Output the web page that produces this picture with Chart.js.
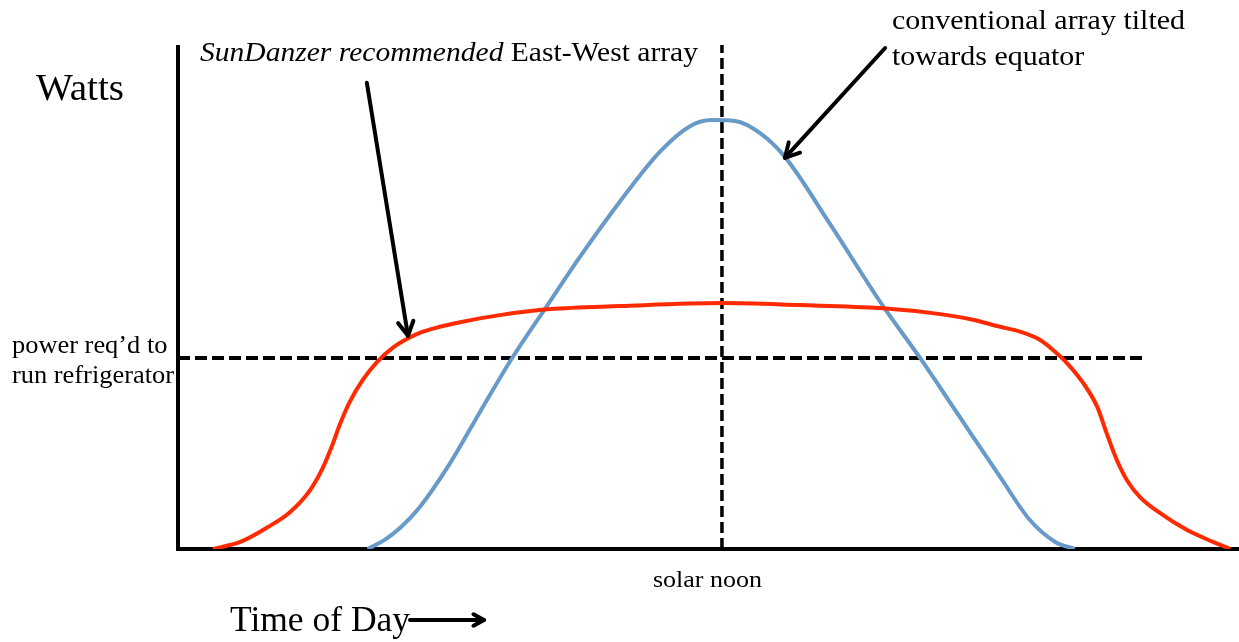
<!DOCTYPE html>
<html>
<head>
<meta charset="utf-8">
<script src="https://cdn.jsdelivr.net/npm/chart.js@4.4.1/dist/chart.umd.min.js"></script>
<style>
  html, body { margin: 0; padding: 0; background: #ffffff; }
  #wrap { width: 1239px; height: 642px; position: relative; }
</style>
</head>
<body>
<div id="wrap"><canvas id="c" width="1239" height="642"></canvas></div>
<script>
// ---- data (hours of day, watts in relative units) ----
const eastWestHours = [5.45, 5.80, 6.14, 6.44, 6.70, 6.86, 6.99, 7.08, 7.21, 7.38, 7.56, 7.77, 7.95, 8.11, 8.37, 8.63, 9.14, 9.79, 10.69, 12.00, 13.00, 14.03, 14.81, 15.20, 15.58, 15.84, 16.09, 16.26, 16.44, 16.65, 16.83, 16.95, 17.08, 17.21, 17.38, 17.64, 17.98, 18.32, 18.54];
const eastWestWatts = [0, 1.4, 4.2, 7.3, 11.7, 16.0, 20.8, 24.6, 29.2, 33.6, 37.1, 40.0, 41.7, 42.9, 44.1, 45.0, 46.4, 47.6, 48.2, 48.8, 48.4, 47.8, 46.6, 45.6, 44.1, 43.1, 41.5, 39.5, 36.9, 32.9, 28.2, 23.0, 17.7, 13.7, 10.3, 7.1, 3.8, 1.4, 0];

const tiltedHours = [7.44, 7.66, 7.86, 8.11, 8.50, 8.89, 9.30, 9.76, 10.17, 10.69, 11.20, 11.59, 11.87, 12.17, 12.49, 12.81, 13.39, 14.06, 14.55, 15.06, 15.58, 15.96, 16.29, 16.54];
const tiltedWatts = [0, 1.8, 4.2, 8.3, 17.0, 27.3, 37.9, 48.5, 57.9, 69.0, 78.8, 83.9, 85.1, 84.9, 82.5, 77.8, 64.5, 48.5, 37.9, 26.2, 14.3, 5.8, 1.4, 0];

const fridgeHours = [5.0, 17.42];
const fridgeWatts = [37.9, 37.9];

const noonHours = [12, 12];
const noonWatts = [0, 100];

const xMin = 5.0, xMax = 18.654;
const yMin = 0, yMax = 100;

const texts = {
  yTitle: 'Watts',
  xTitle: 'Time of Day',
  noon: 'solar noon',
  fridge1: 'power req\u2019d to',
  fridge2: 'run refrigerator',
  ewItalic: 'SunDanzer recommended',
  ewRegular: ' East-West array',
  tilt1: 'conventional array tilted',
  tilt2: 'towards equator'
};

function pts(xs, ys) { return xs.map((x, i) => ({ x: x, y: ys[i] })); }

const FONT = '"Liberation Serif", "DejaVu Serif", serif';

function arrow(ctx, x1, y1, x2, y2, head, width) {
  ctx.save();
  ctx.strokeStyle = '#000';
  ctx.lineWidth = width;
  ctx.lineCap = 'round';
  ctx.lineJoin = 'round';
  ctx.beginPath();
  ctx.moveTo(x1, y1);
  ctx.lineTo(x2, y2);
  ctx.stroke();
  const a = Math.atan2(y2 - y1, x2 - x1);
  ctx.beginPath();
  ctx.moveTo(x2 - head * Math.cos(a - 0.5), y2 - head * Math.sin(a - 0.5));
  ctx.lineTo(x2, y2);
  ctx.lineTo(x2 - head * Math.cos(a + 0.5), y2 - head * Math.sin(a + 0.5));
  ctx.stroke();
  ctx.restore();
}

// draw text stretched horizontally by factor sx
function stretched(ctx, str, x, y, sx) {
  ctx.save();
  ctx.translate(x, y);
  ctx.scale(sx, 1);
  ctx.fillText(str, 0, 0);
  ctx.restore();
}

const decor = {
  id: 'decor',
  beforeDatasetsDraw(chart) {
    const ctx = chart.ctx, ca = chart.chartArea;
    ctx.save();
    ctx.strokeStyle = '#000';
    ctx.lineWidth = 4;
    ctx.beginPath();
    ctx.moveTo(ca.left, ca.top);
    ctx.lineTo(ca.left, ca.bottom);
    ctx.lineTo(chart.width, ca.bottom);
    ctx.stroke();
    ctx.restore();
  },
  afterDraw(chart) {
    const ctx = chart.ctx;
    const xs = chart.scales.x, ys = chart.scales.y;
    ctx.save();
    ctx.fillStyle = '#000';
    ctx.textBaseline = 'alphabetic';
    ctx.textAlign = 'left';

    ctx.font = '38px ' + FONT;
    stretched(ctx, texts.yTitle, 36, 100, 88 / ctx.measureText(texts.yTitle).width);

    ctx.font = '36px ' + FONT;
    stretched(ctx, texts.xTitle, 230, 631, 180 / ctx.measureText(texts.xTitle).width);

    ctx.font = '24px ' + FONT;
    stretched(ctx, texts.noon, 653, 587, 109 / ctx.measureText(texts.noon).width);

    ctx.font = '25px ' + FONT;
    let s = 162 / ctx.measureText(texts.fridge2).width;
    stretched(ctx, texts.fridge1, 12, 353, s);
    stretched(ctx, texts.fridge2, 12, 383, s);

    ctx.font = 'italic 28px ' + FONT;
    const wi = ctx.measureText(texts.ewItalic).width;
    ctx.font = '28px ' + FONT;
    const wr = ctx.measureText(texts.ewRegular).width;
    s = 498 / (wi + wr);
    ctx.font = 'italic 28px ' + FONT;
    stretched(ctx, texts.ewItalic, 200, 61, s);
    ctx.font = '28px ' + FONT;
    stretched(ctx, texts.ewRegular, 200 + wi * s, 61, s);

    ctx.font = '28px ' + FONT;
    s = 293 / ctx.measureText(texts.tilt1).width;
    stretched(ctx, texts.tilt1, 892, 29, s);
    stretched(ctx, texts.tilt2, 892, 65, s);
    ctx.restore();

    // arrows pointing at the curves
    arrow(ctx, xs.getPixelForValue(7.43), ys.getPixelForValue(92.5),
               xs.getPixelForValue(7.96), ys.getPixelForValue(42.3), 16, 4);
    arrow(ctx, xs.getPixelForValue(14.10), ys.getPixelForValue(99.4),
               xs.getPixelForValue(12.81), ys.getPixelForValue(77.6), 16, 4);
    arrow(ctx, 410, 620, 484, 620, 12, 4);
  }
};

new Chart(document.getElementById('c'), {
  type: 'scatter',
  data: {
    datasets: [
      { data: pts(noonHours, noonWatts), showLine: true, borderColor: '#000', borderWidth: 3.5,
        borderDash: [11, 5], pointRadius: 0, fill: false, order: 3 },
      { data: pts(fridgeHours, fridgeWatts), showLine: true, borderColor: '#000', borderWidth: 4,
        borderDash: [12, 5], pointRadius: 0, fill: false, order: 3 },
      { data: pts(tiltedHours, tiltedWatts), showLine: true, borderColor: '#6799c9', borderWidth: 4,
        cubicInterpolationMode: 'monotone', pointRadius: 0, fill: false, order: 2 },
      { data: pts(eastWestHours, eastWestWatts), showLine: true, borderColor: '#ff2a00', borderWidth: 4,
        cubicInterpolationMode: 'monotone', pointRadius: 0, fill: false, order: 1 }
    ]
  },
  options: {
    responsive: false,
    animation: false,
    events: [],
    layout: { padding: { left: 178, top: 45, right: 0, bottom: 93 } },
    plugins: { legend: { display: false }, tooltip: { enabled: false } },
    scales: {
      x: { type: 'linear', min: xMin, max: xMax, display: false },
      y: { type: 'linear', min: yMin, max: yMax, display: false }
    }
  },
  plugins: [decor]
});
</script>
</body>
</html>
